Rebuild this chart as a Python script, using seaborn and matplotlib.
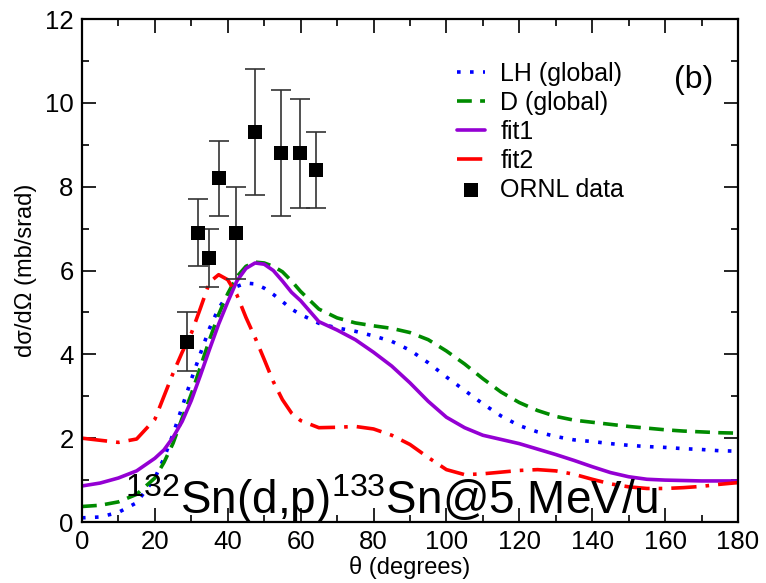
import matplotlib
matplotlib.use("Agg")
import matplotlib.pyplot as plt
from matplotlib.ticker import MultipleLocator
import seaborn as sns

# angular grid (degrees) for the calculated curves
theta = [0, 5, 10, 15, 20, 22.5, 25, 27.5, 30, 32.5, 35, 37.5, 40, 42.5, 45,
         47.5, 50, 52.5, 55, 57.5, 60, 65, 70, 75, 80, 85, 90, 95, 100, 105,
         110, 115, 120, 125, 130, 135, 140, 145, 150, 155, 160, 165, 170, 175, 180]

lh_global = [0.10, 0.12, 0.23, 0.46, 1.05, 1.52, 2.10, 2.75, 3.40, 4.02, 4.62,
             5.10, 5.42, 5.62, 5.70, 5.68, 5.58, 5.43, 5.26, 5.08, 4.95, 4.74,
             4.63, 4.55, 4.44, 4.31, 4.10, 3.80, 3.46, 3.14, 2.82, 2.53, 2.30,
             2.15, 2.04, 1.96, 1.92, 1.87, 1.83, 1.80, 1.78, 1.75, 1.73, 1.70, 1.69]

d_global = [0.37, 0.40, 0.48, 0.66, 1.05, 1.42, 1.88, 2.48, 3.05, 3.70, 4.35,
            4.95, 5.45, 5.85, 6.10, 6.20, 6.18, 6.10, 5.97, 5.75, 5.50, 5.08,
            4.87, 4.75, 4.68, 4.62, 4.52, 4.35, 4.08, 3.77, 3.42, 3.10, 2.85,
            2.66, 2.52, 2.43, 2.38, 2.33, 2.28, 2.24, 2.20, 2.17, 2.15, 2.13, 2.12]

fit1 = [0.86, 0.93, 1.05, 1.22, 1.52, 1.72, 2.02, 2.40, 2.90, 3.50, 4.12,
        4.72, 5.25, 5.75, 6.05, 6.18, 6.15, 6.00, 5.75, 5.48, 5.28, 4.78,
        4.58, 4.35, 4.05, 3.72, 3.32, 2.88, 2.50, 2.25, 2.07, 1.97, 1.87,
        1.74, 1.61, 1.47, 1.32, 1.18, 1.08, 1.02, 1.00, 0.99, 0.98, 0.98, 0.98]

fit2 = [2.00, 1.95, 1.90, 1.98, 2.45, 3.00, 3.55, 4.05, 4.50, 5.10, 5.72,
        5.90, 5.78, 5.42, 4.88, 4.40, 3.88, 3.35, 2.92, 2.60, 2.42, 2.25,
        2.26, 2.28, 2.22, 2.07, 1.85, 1.54, 1.25, 1.13, 1.15, 1.19, 1.23,
        1.25, 1.22, 1.14, 1.02, 0.91, 0.84, 0.80, 0.80, 0.82, 0.85, 0.90, 0.94]

# ORNL measurement
ornl_theta = [28.9, 31.9, 34.9, 37.7, 42.3, 47.6, 54.6, 59.9, 64.2]
ornl_xs = [4.3, 6.9, 6.3, 8.2, 6.9, 9.3, 8.8, 8.8, 8.4]
ornl_err = [0.7, 0.8, 0.7, 0.9, 1.1, 1.5, 1.5, 1.3, 0.9]

sns.set_theme(style="ticks")
plt.rcParams['font.family'] = ['Liberation Sans', 'DejaVu Sans']
plt.rcParams['text.color'] = 'black'
plt.rcParams['axes.labelcolor'] = 'black'
plt.rcParams['xtick.color'] = 'black'
plt.rcParams['ytick.color'] = 'black'

fig = plt.figure(figsize=(7.66, 5.83), dpi=100)
ax = fig.add_axes([0.107, 0.1046, 0.8564, 0.8628])

lw = 2.6
sns.lineplot(x=theta, y=lh_global, ax=ax, color='#0000ff', lw=lw,
             linestyle=(0, (1, 2.6)), label='LH (global)')
sns.lineplot(x=theta, y=d_global, ax=ax, color='#008b00', lw=lw,
             linestyle=(0, (4.1, 2.3)), label='D (global)')
sns.lineplot(x=theta, y=fit1, ax=ax, color='#9400d3', lw=lw,
             linestyle='-', label='fit1')
sns.lineplot(x=theta, y=fit2, ax=ax, color='#ff0000', lw=lw,
             linestyle=(0, (7, 2.5, 1, 2.5)), label='fit2')

ax.errorbar(ornl_theta, ornl_xs, yerr=ornl_err, fmt='none', ecolor='0.2',
            elinewidth=1.2, capsize=7, capthick=1.2, zorder=4)
sns.scatterplot(x=ornl_theta, y=ornl_xs, ax=ax, marker='s', s=95,
                color='black', edgecolor='black', linewidth=0, zorder=5,
                label='ORNL data')

ax.set_xlim(0, 180)
ax.set_ylim(0, 12)
ax.xaxis.set_major_locator(MultipleLocator(20))
ax.xaxis.set_minor_locator(MultipleLocator(10))
ax.yaxis.set_major_locator(MultipleLocator(2))
ax.yaxis.set_minor_locator(MultipleLocator(1))
ax.tick_params(which='both', direction='in', top=True, right=True,
               width=1.2, color='black', labelcolor='black', labelsize=18.5)
ax.tick_params(which='major', length=10, pad=6)
ax.tick_params(which='minor', length=5)
for s in ax.spines.values():
    s.set_linewidth(1.6)
    s.set_color('black')

ax.set_xlabel('θ (degrees)', fontsize=17, labelpad=1)
ax.set_ylabel('dσ/dΩ (mb/srad)', fontsize=17, labelpad=6)

handles, labels = ax.get_legend_handles_labels()
ax.legend(handles, labels, loc='upper left', bbox_to_anchor=(0.572, 0.915),
          frameon=False, fontsize=18, borderpad=0, handlelength=1.12,
          handletextpad=0.6, labelspacing=0.2, borderaxespad=0)

ax.text(167.7, 10.36, '(b)', fontsize=23, ha='center', va='baseline')
ax.text(11.8, 0.2, r'$\mathregular{^{132}}$Sn(d,p)$\mathregular{^{133}}$Sn@5 MeV/u',
        fontsize=33, ha='left', va='baseline', zorder=6)

fig.savefig('out.png', dpi=100)
